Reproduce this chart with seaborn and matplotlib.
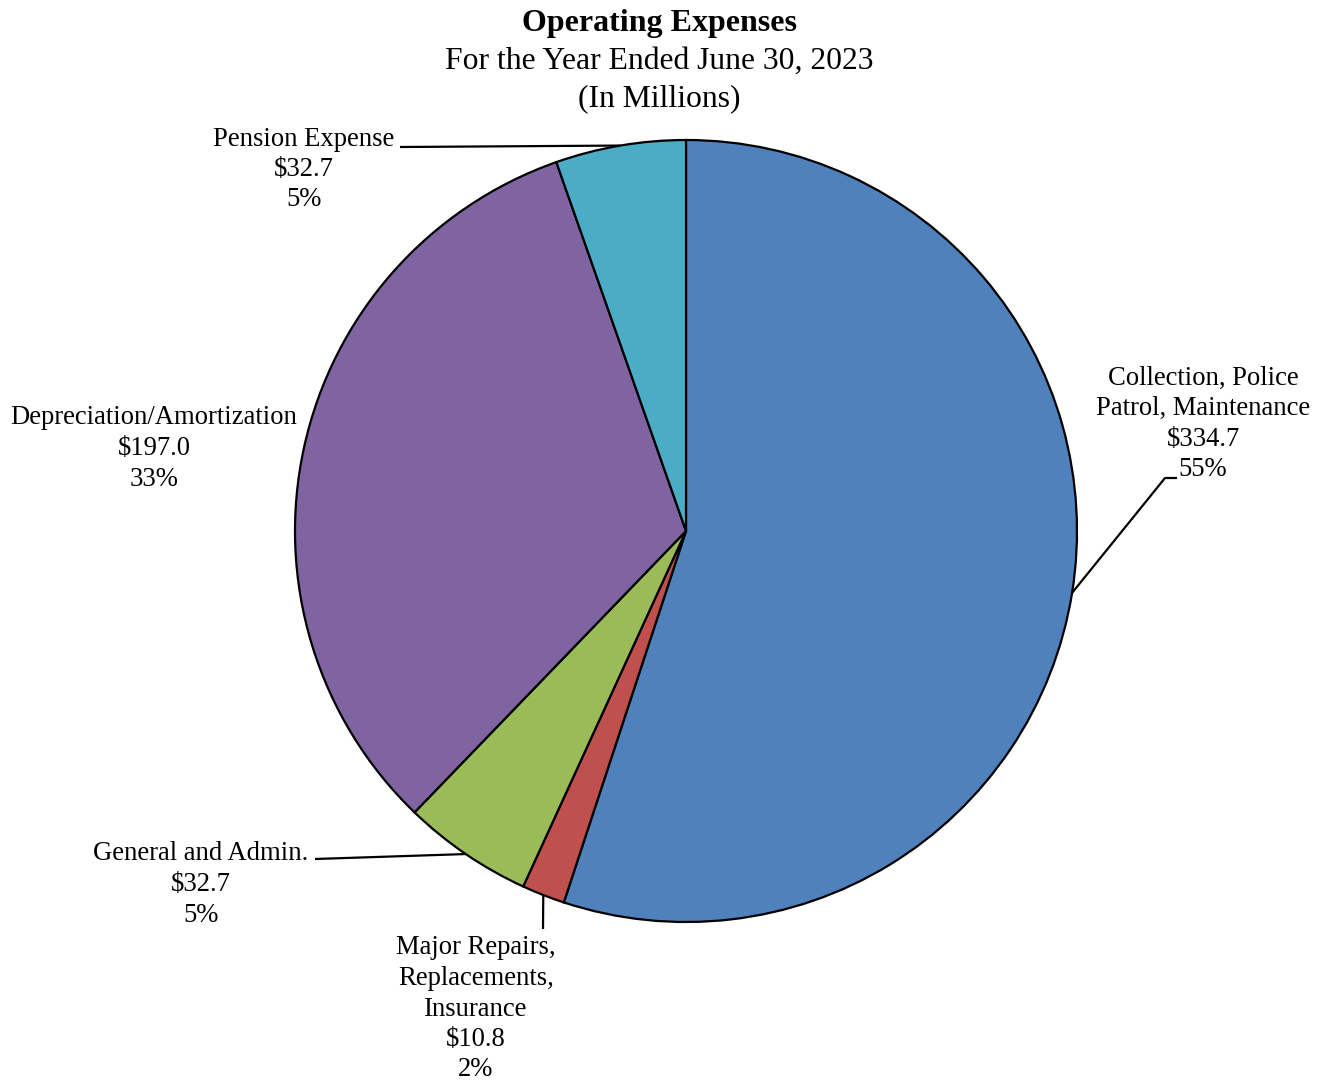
import numpy as np
import matplotlib
matplotlib.use("Agg")
import matplotlib.pyplot as plt
import seaborn as sns

# data
categories = ["Collection, Police\nPatrol, Maintenance",
              "Major Repairs,\nReplacements,\nInsurance",
              "General and Admin.",
              "Depreciation/Amortization",
              "Pension Expense"]
amounts = [334.7, 10.8, 32.7, 197.0, 32.7]
pct_labels = ["55%", "2%", "5%", "33%", "5%"]
colors = ["#4F81BD", "#C0504D", "#9BBB59", "#8064A2", "#4BACC6"]

W, H = 1327, 1080
cx, cy, R = 686, 531, 391

sns.set_theme(style="white")
plt.rcParams['font.family'] = ['Liberation Serif', 'DejaVu Serif']

fig = plt.figure(figsize=(W / 100, H / 100), dpi=100)
ax = fig.add_axes([0, 0, 1, 1])

wedges, _ = ax.pie(amounts, colors=sns.color_palette(colors), startangle=90,
                   counterclock=False, center=(cx, H - cy), radius=R, frame=True,
                   wedgeprops=dict(edgecolor="black", linewidth=1.6))
ax.set_xlim(0, W)
ax.set_ylim(0, H)
ax.set_aspect("equal")
ax.axis("off")


def edge_point(w):
    mid = np.deg2rad((w.theta1 + w.theta2) / 2)
    return cx + R * np.cos(mid), H - cy + R * np.sin(mid)


# label layout: (text center x, first line y in px from top), leader path after wedge point
layout = [
    (1203, 378, [(1165, 478), (1177, 478)]),
    (476, 948, [(543, 929)]),
    (201, 854, [(315, 859)]),
    (154, 418, None),
    (304, 139, [(400, 147)]),
]

step = 30.5
for w, name, amt, pct, (tx, ty, path) in zip(wedges, categories, amounts, pct_labels, layout):
    lines = name.split("\n") + [f"${amt:.1f}", pct]
    for i, line in enumerate(lines):
        ax.text(tx, H - (ty + i * step), line, ha="center", va="center",
                fontsize=19.2, color="black")
    if path:
        ex, ey = edge_point(w)
        xs = [ex] + [p[0] for p in path]
        ys = [ey] + [H - p[1] for p in path]
        ax.plot(xs, ys, color="black", linewidth=1.6, solid_capstyle="butt")

ax.text(659, H - 24, "Operating Expenses", ha="center", va="center",
        fontsize=23, fontweight="bold", color="black")
ax.text(659, H - 61, "For the Year Ended June 30, 2023", ha="center", va="center",
        fontsize=22.8, color="black")
ax.text(659, H - 99, "(In Millions)", ha="center", va="center",
        fontsize=22.8, color="black")

fig.savefig("out.png", dpi=100, facecolor="white")
